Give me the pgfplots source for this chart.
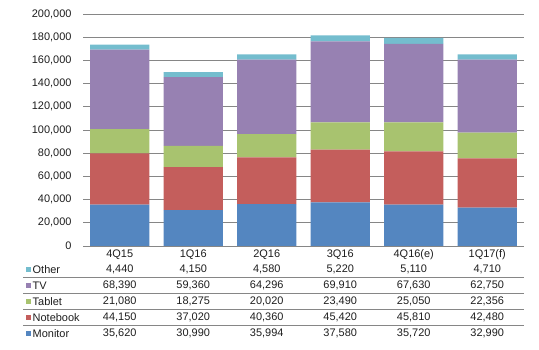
\documentclass[border=0pt]{standalone}
\usepackage{pgfplots}
\usepackage{pgfplotstable}
\pgfplotsset{compat=1.18}
\usepackage{fontspec}
\setmainfont{Liberation Sans}
\definecolor{cMon}{RGB}{84,134,192}
\definecolor{cNot}{RGB}{196,94,92}
\definecolor{cTab}{RGB}{168,195,111}
\definecolor{cTV}{RGB}{151,129,178}
\definecolor{cOth}{RGB}{116,189,206}
\definecolor{gridc}{RGB}{134,134,134}
\definecolor{txt}{RGB}{30,30,30}
\pgfplotstableread{
x Monitor Notebook Tablet TV Other
0 35620 44150 21080 68390 4440
1 30990 37020 18275 59360 4150
2 35994 40360 20020 64296 4580
3 37580 45420 23490 69910 5220
4 35720 45810 25050 67630 5110
5 32990 42480 22356 62750 4710
}\datatable
\begin{document}
\begin{tikzpicture}[font=\fontsize{11}{13}\selectfont, text=txt]
\useasboundingbox (0,0) rectangle (539bp,350bp);
\begin{axis}[
  at={(83bp,104bp)}, anchor=south west,
  scale only axis, width=441bp, height=232bp,
  ybar stacked, bar width=0.803,
  xmin=-0.5, xmax=5.5, ymin=0, ymax=200000,
  xtick=data, xticklabels={4Q15,1Q16,2Q16,3Q16,4Q16(e),1Q17(f)},
  ytick distance=20000,
  scaled y ticks=false,
  yticklabel={\pgfmathprintnumber[fixed, precision=0, 1000 sep={,}, assume math mode=true]{\tick}},
  ymajorgrids, grid style={gridc, line width=0.8bp},
  axis x line*=bottom, axis y line*=left,
  x axis line style={gridc, line width=0.8bp},
  y axis line style={draw=none},
  xtick style={draw=none}, ytick style={draw=none},
  yticklabel style={xshift=-8bp},
  xticklabel style={yshift=0bp},
  tick label style={font=\fontsize{11}{13}\selectfont, text=txt},
  clip=false,
]
\addplot[fill=cMon, draw=none] table[x=x, y=Monitor] {\datatable};
\addplot[fill=cNot, draw=none] table[x=x, y=Notebook] {\datatable};
\addplot[fill=cTab, draw=none] table[x=x, y=Tablet] {\datatable};
\addplot[fill=cTV, draw=none] table[x=x, y=TV] {\datatable};
\addplot[fill=cOth, draw=none] table[x=x, y=Other] {\datatable};
\end{axis}
\begin{scope}[x=1bp, y=1bp]
\foreach \yy in {72.3,56.3,40.3,24.3} \draw[gridc, line width=0.8bp] (23,\yy) -- (524,\yy);
\foreach \name/\col/\yy in {Other/cOth/80.7, TV/cTV/64.7, Tablet/cTab/48.7, Notebook/cNot/32.7, Monitor/cMon/16.7} {
  \fill[\col] (26,\yy-2.4) rectangle ++(4.8,4.8);
  \node[anchor=west, inner sep=0] at (32.5,\yy) {\name};
  \foreach \i in {0,...,5} {
    \pgfplotstablegetelem{\i}{\name}\of\datatable
    \node[inner sep=0] at (83+73.5*\i+36.75, \yy) {\pgfmathprintnumber[fixed, precision=0, assume math mode=true, 1000 sep={,}]{\pgfplotsretval}};
  }
}
\end{scope}
\end{tikzpicture}
\end{document}
